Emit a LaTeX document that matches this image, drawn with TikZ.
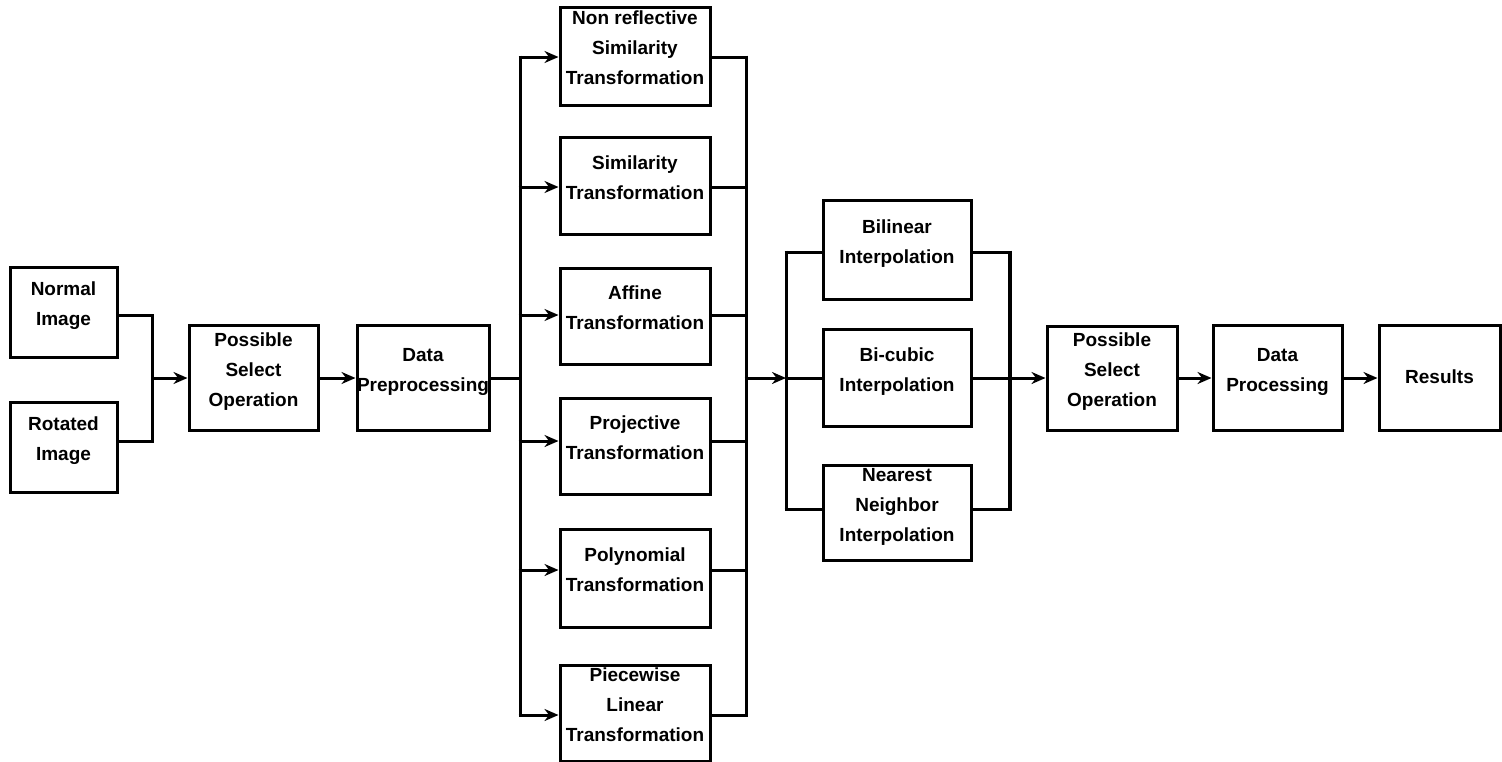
\documentclass[tikz,border=0pt]{standalone}
\usepackage{fontspec}
\setmainfont{Liberation Sans}
\usetikzlibrary{arrows.meta}
\tikzset{
  box/.style={draw, line width=3pt, align=center, inner sep=0pt, text depth=16pt,
    font=\bfseries\fontsize{19}{30}\selectfont},
  conn/.style={line width=3pt},
  arr/.style={line width=3pt, -{Stealth[length=14pt,width=12pt]}},
}
\begin{document}
\begin{tikzpicture}[x=1pt,y=-1pt]
\useasboundingbox (0,0) rectangle (1502,761);
% input boxes
\node[box, minimum width=107pt, minimum height=90pt] (normal) at (63.5,312) {Normal\\Image};
\node[box, minimum width=107pt, minimum height=90pt] (rotated) at (63.5,447) {Rotated\\Image};
\node[box, minimum width=129pt, minimum height=105pt] (ps1) at (253.5,378) {Possible\\Select\\Operation};
\node[box, minimum width=128pt, minimum height=105pt] (dp) at (423,378) {Data\\Preprocessing};
% transformations
\node[box, minimum width=150pt, minimum height=98pt] (t1) at (635,56) {Non reflective\\Similarity\\Transformation};
\node[box, minimum width=150pt, minimum height=97pt] (t2) at (635,185.5) {Similarity\\Transformation};
\node[box, minimum width=150pt, minimum height=96pt] (t3) at (635,316) {Affine\\Transformation};
\node[box, minimum width=150pt, minimum height=96pt] (t4) at (635,446) {Projective\\Transformation};
\node[box, minimum width=150pt, minimum height=98pt] (t5) at (635,578) {Polynomial\\Transformation};
\node[box, minimum width=150pt, minimum height=96pt] (t6) at (635,713) {Piecewise\\Linear\\Transformation};
% interpolations
\node[box, minimum width=148pt, minimum height=99pt] (bl) at (897,249.5) {Bilinear\\Interpolation};
\node[box, minimum width=148pt, minimum height=97pt] (bc) at (897,378) {Bi-cubic\\Interpolation};
\node[box, minimum width=148pt, minimum height=95pt] (nn) at (897,512.5) {Nearest\\Neighbor\\Interpolation};
% output chain
\node[box, minimum width=130pt, minimum height=104pt] (ps2) at (1112,378) {Possible\\Select\\Operation};
\node[box, minimum width=129pt, minimum height=105pt] (dproc) at (1277.5,378) {Data\\Processing};
\node[box, text depth=2pt, minimum width=121pt, minimum height=105pt] (res) at (1439.5,378) {Results};

% merge of inputs
\coordinate (m1) at (152,378);
\draw[conn] ([yshift=-3pt]normal.east) -| (m1);
\draw[conn] ([yshift=6pt]rotated.east) -| (m1);
\draw[arr] (m1) -- (ps1.west);
\draw[arr] (ps1.east) -- (dp.west);

% left bus
\coordinate (bl0) at (521.5,378);
\coordinate (l1) at (520,57);
\coordinate (l2) at (520,187);
\coordinate (l3) at (520,315);
\coordinate (l4) at (520,441);
\coordinate (l5) at (520,570);
\coordinate (l6) at (520,715);
\draw[conn] (dp.east) -- (bl0);
\draw[conn] ([yshift=1.5pt]l1) -- ([yshift=-1.5pt]l6);
\foreach \i in {1,...,6} \draw[arr] ([xshift=-1.5pt]l\i) -- (l\i -| t\i.west);

% right bus
\coordinate (r1) at (746,57);
\coordinate (r2) at (746,187);
\coordinate (r3) at (746,315);
\coordinate (r4) at (746,441);
\coordinate (r5) at (746,570);
\coordinate (r6) at (746,715);
\coordinate (br0) at (744.5,378);
\draw[conn] ([yshift=1.5pt]r1) -- ([yshift=-1.5pt]r6);
\foreach \i in {1,...,6} \draw[conn] (t\i.east |- r\i) -- ([xshift=1.5pt]r\i);

% interpolation buses
\coordinate (il) at (786,378);
\coordinate (i1) at (786,252);
\coordinate (i3) at (786,509);
\draw[arr] (br0) -- (il);
\draw[conn] ([yshift=1.5pt]i1) -- ([yshift=-1.5pt]i3);
\draw[conn] ([xshift=-1.5pt]i1) -- (i1 -| bl.west);
\draw[conn] (il) -- (bc.west);
\draw[conn] ([xshift=-1.5pt]i3) -- (i3 -| nn.west);
\coordinate (o1) at (1010,252);
\coordinate (o2) at (1010,378);
\coordinate (o3) at (1010,509);
\draw[line width=4pt] ([yshift=1.5pt]o1) -- ([yshift=-1.5pt]o3);
\draw[conn] (bl.east |- o1) -- (o1);
\draw[conn] (bc.east) -- (o2);
\draw[conn] (nn.east |- o3) -- (o3);
\draw[arr] (o2) -- (ps2.west);
\draw[arr] (ps2.east) -- (dproc.west);
\draw[arr] (dproc.east) -- (res.west);
\end{tikzpicture}
\end{document}
